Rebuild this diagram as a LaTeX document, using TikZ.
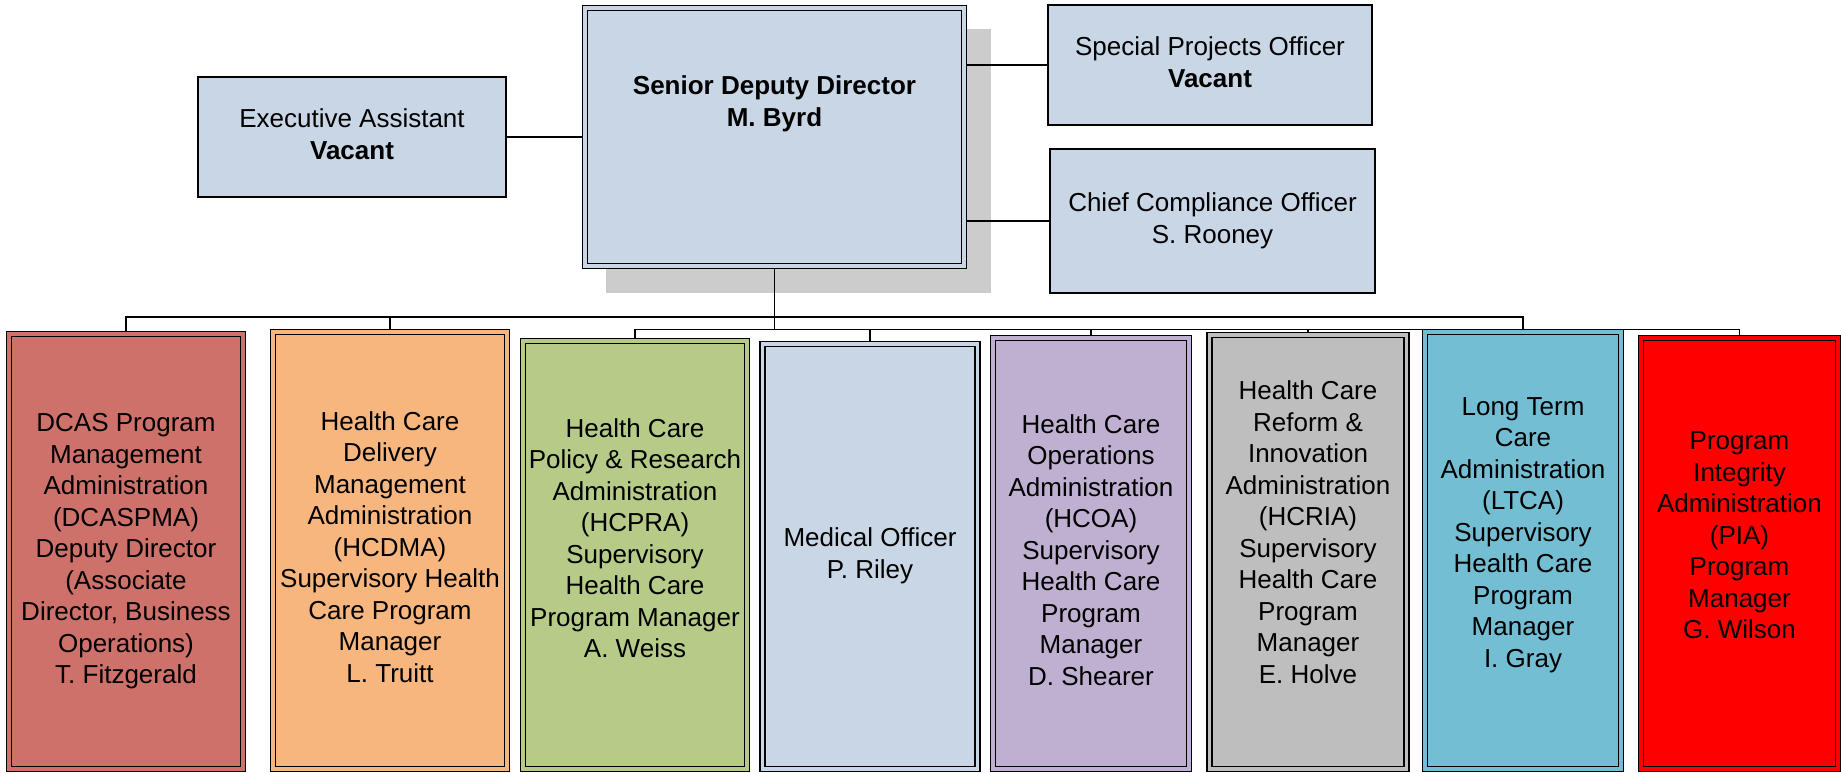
\documentclass[tikz,border=0pt]{standalone}
\usepackage{fontspec}
\setmainfont{Liberation Sans}
\newcommand{\orgfont}{\fontsize{26}{31.5}\selectfont}
\definecolor{boxblue}{RGB}{201,214,229}
\definecolor{shadowgray}{RGB}{204,204,204}
\definecolor{dcascol}{RGB}{205,113,106}
\definecolor{hcdmacol}{RGB}{247,182,126}
\definecolor{hcpracol}{RGB}{183,203,136}
\definecolor{hcoacol}{RGB}{191,176,209}
\definecolor{hcriacol}{RGB}{190,190,190}
\definecolor{ltcacol}{RGB}{115,190,211}
\definecolor{piacol}{RGB}{255,0,0}

\begin{document}
\begin{tikzpicture}[x=1pt,y=-1pt,
	box/.style={draw,line width=1.3pt,fill=boxblue,inner sep=0pt,font=\orgfont},
	unit/.style={draw,line width=1.5pt,double=#1,double distance=3.5pt,fill=#1,inner sep=0pt,outer sep=3pt},
	txt/.style={inner sep=0pt,font=\orgfont},
	link/.style={line width=1.5pt}]
			\useasboundingbox (0,0) rectangle (1841,773);
			% director and staff
			\fill[shadowgray] (606,29) rectangle (991,293);
			\draw (774.5,137) node [unit=boxblue,minimum width=379pt,minimum height=258pt] (sdd) {};
			\draw (774.5,104) node [txt] (sddname) {\begin{tabular}{c} \textbf{Senior Deputy Director} \\ \textbf{M. Byrd} \end{tabular}};
			\draw (352,137) node [box,minimum width=308pt,minimum height=120pt] (exec) {\begin{tabular}{c} Executive Assistant \\ \textbf{Vacant} \end{tabular}};
			\draw (1210,65) node [box,minimum width=324pt,minimum height=120pt] (spo) {\begin{tabular}{c} Special Projects Officer \\ \textbf{Vacant} \end{tabular}};
			\draw (1212.5,221) node [box,minimum width=325pt,minimum height=144pt] (cco) {\begin{tabular}{c} Chief Compliance Officer \\ S. Rooney \end{tabular}};
			% administrations
			\draw (126,551.5) node [unit=dcascol,minimum width=234pt,minimum height=435pt] (dcas) {};
			\draw (126,551.5) node [txt] {\begin{tabular}{c} DCAS Program \\ Management \\ Administration \\ (DCASPMA) \\ Deputy Director \\ (Associate \\ Director, Business \\ Operations) \\ T. Fitzgerald \end{tabular}};
			\draw (390,550.5) node [unit=hcdmacol,minimum width=234pt,minimum height=437pt] (hcdma) {};
			\draw (390,550) node [txt] {\begin{tabular}{c} Health Care \\ Delivery \\ Management \\ Administration \\ (HCDMA) \\ Supervisory Health \\ Care Program \\ Manager \\ L. Truitt \end{tabular}};
			\draw (635,555) node [unit=hcpracol,minimum width=224pt,minimum height=428pt] (hcpra) {};
			\draw (635,541) node [txt] {\begin{tabular}{c} Health Care \\ Policy \& Research \\ Administration \\ (HCPRA) \\ Supervisory \\ Health Care \\ Program Manager \\ A. Weiss \end{tabular}};
			\draw (870,556.5) node [unit=boxblue,minimum width=215pt,minimum height=425pt] (medical) {};
			\draw (870,556) node [txt] {\begin{tabular}{c} Medical Officer \\ P. Riley \end{tabular}};
			\draw (1091,553.5) node [unit=hcoacol,minimum width=196pt,minimum height=431pt] (hcoa) {};
			\draw (1091,553) node [txt] {\begin{tabular}{c} Health Care \\ Operations \\ Administration \\ (HCOA) \\ Supervisory \\ Health Care \\ Program \\ Manager \\ D. Shearer \end{tabular}};
			\draw (1308,552) node [unit=hcriacol,minimum width=197pt,minimum height=434pt] (hcria) {};
			\draw (1308,535) node [txt] {\begin{tabular}{c} Health Care \\ Reform \& \\ Innovation \\ Administration \\ (HCRIA) \\ Supervisory \\ Health Care \\ Program \\ Manager \\ E. Holve \end{tabular}};
			\draw (1523,550.5) node [unit=ltcacol,minimum width=196pt,minimum height=437pt] (ltca) {};
			\draw (1523,535) node [txt] {\begin{tabular}{c} Long Term \\ Care \\ Administration \\ (LTCA) \\ Supervisory \\ Health Care \\ Program \\ Manager \\ I. Gray \end{tabular}};
			\draw (1739.5,553.5) node [unit=piacol,minimum width=197pt,minimum height=431pt] (pia) {};
			\draw (1739.5,538) node [txt] {\begin{tabular}{c} Program \\ Integrity \\ Administration \\ (PIA) \\ Program \\ Manager \\ G. Wilson \end{tabular}};
			% lines
			\coordinate (upbus) at (774.5,317);
			\coordinate (lowbus) at (774.5,329.5);
			\draw[link] (sdd) -- (lowbus);
			\draw[link] (dcas) |- (upbus) -| (ltca);
			\draw[link] (hcdma) |- (upbus);
			\draw[link] (hcpra) |- (lowbus) -| (pia);
			\draw[link] (medical) |- (lowbus);
			\draw[link] (hcoa) |- (lowbus);
			\draw[link] (hcria) |- (lowbus);
			\draw[link] (exec) -- (exec -| sdd.west);
			\draw[link] (spo) -- (spo -| sdd.east);
			\draw[link] (cco) -- (cco -| sdd.east);
		\end{tikzpicture}
\end{document}
